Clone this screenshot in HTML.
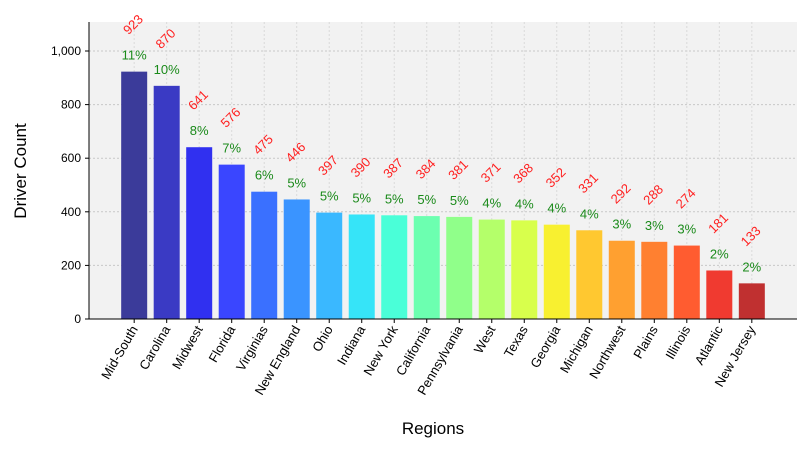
<!DOCTYPE html>
<html><head><meta charset="utf-8"><style>
body{margin:0;background:#fff;font-family:"Liberation Sans",sans-serif}
</style></head><body>
<svg id="chart" width="810" height="450" xmlns="http://www.w3.org/2000/svg" font-family="Liberation Sans, sans-serif">
<rect x="89" y="22" width="708" height="297" fill="#f2f2f2"/>
<g id="grid"></g><g id="bars"></g><g id="labels"></g><g id="axes"></g>
<text x="433" y="434" font-size="17" text-anchor="middle">Regions</text>
<text transform="translate(26,171) rotate(-90)" font-size="17" text-anchor="middle">Driver Count</text>
</svg>
<script>
const categories=["Mid-South","Carolina","Midwest","Florida","Virginias","New England","Ohio","Indiana","New York","California","Pennsylvania","West","Texas","Georgia","Michigan","Northwest","Plains","Illinois","Atlantic","New Jersey"];
const values=[923,870,641,576,475,446,397,390,387,384,381,371,368,352,331,292,288,274,181,133];
const percents=["11%","10%","8%","7%","6%","5%","5%","5%","5%","5%","5%","4%","4%","4%","4%","3%","3%","3%","2%","2%"];
const yTicks=[0,200,400,600,800,1000];
const colors=["#3b3b9a","#3a3ac4","#3030f0","#3a46ff","#3a70ff","#3a94ff","#3ab8ff","#36e4f8","#4affd8","#6cffb0","#90ff8a","#b4ff6a","#d8ff4c","#f8f030","#ffc830","#ffa030","#ff8030","#ff5c30","#f03a30","#c03030"];
const ns="http://www.w3.org/2000/svg";
const X0=89,X1=797,Y0=319,Y1=22,n=categories.length;
const step=(X1-X0)/(n+1.78);
const xs=i=>X0+step*(i+1.39);
const ys=v=>Y0-v*0.268;
function mk(t,a,p){const e=document.createElementNS(ns,t);for(const k in a)e.setAttribute(k,a[k]);document.getElementById(p).appendChild(e);return e;}
yTicks.forEach(v=>{
 const g=mk('line',{x1:X0,x2:X1,y1:ys(v),y2:ys(v),stroke:'#c8c8c8','stroke-dasharray':'2,2'},'grid');
 
 
 const tk=mk('line',{x1:X0-4,x2:X0,y1:ys(v),y2:ys(v),stroke:'#000'},'axes');
 
 
 const t=mk('text',{x:X0-8,y:ys(v)+4,'font-size':12,'text-anchor':'end'},'axes');
 t.textContent=v.toLocaleString('en-US');
 
 
});
categories.forEach((c,i)=>{
 const cx=xs(i),v=values[i],top=ys(v);
 const gl=mk('line',{x1:cx,x2:cx,y1:Y1,y2:Y0,stroke:'#dadada','stroke-dasharray':'2,2'},'grid');
 
 
 const b=mk('rect',{x:cx-13,y:top,width:26,height:Y0-top,fill:colors[i]},'bars');
 
 
 const p=mk('text',{x:cx,y:top-12,'font-size':13,fill:'#1a8a1a','text-anchor':'middle'},'labels');
 p.textContent=percents[i];
 
 
 const vl=mk('text',{transform:`translate(${cx+2},${top-44}) rotate(-45)`,'font-size':13,fill:'#ff2020','text-anchor':'middle'},'labels');
 vl.textContent=v;
 
 
 const tk=mk('line',{x1:cx,x2:cx,y1:Y0,y2:Y0+4,stroke:'#000'},'axes');
 
 
 const xl=mk('text',{transform:`translate(${cx+4},${Y0+10}) rotate(-60)`,'font-size':13,'text-anchor':'end'},'axes');
 xl.textContent=c;
 
 
});
const ax=mk('line',{x1:X0,x2:X0,y1:Y1,y2:Y0,stroke:'#000'},'axes');


const bx=mk('line',{x1:X0,x2:X1,y1:Y0,y2:Y0,stroke:'#000'},'axes');


</script>
</body></html>
